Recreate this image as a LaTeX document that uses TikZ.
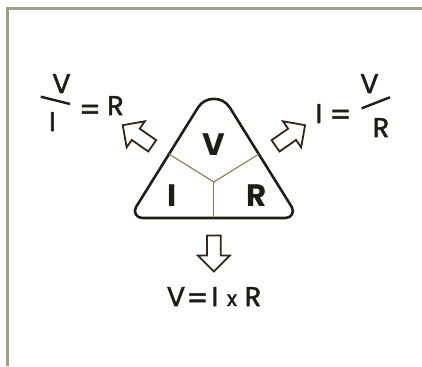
\documentclass[tikz,border=0pt]{standalone}
\usepackage{fontspec}
\setmainfont{Poppins}
\newfontfamily\medfont{Poppins}[FakeBold=2]
\usetikzlibrary{shapes.arrows,calc}
\definecolor{ink}{HTML}{1E1E16}
\definecolor{inkbrown}{HTML}{33261A}
\definecolor{divcol}{HTML}{8A7A4E}
\definecolor{framecol}{HTML}{9DA08A}
\begin{document}
\begin{tikzpicture}[x=1pt,y=-1pt,
  tri/.style={draw=ink,line width=2.6pt,line join=round},
  divline/.style={draw=divcol,line width=1.1pt},
  frameline/.style={draw=framecol,line width=2.2pt},
  hollow/.style={single arrow,draw=inkbrown,line width=1.8pt,fill=white,inner sep=6pt,
    minimum height=36pt,single arrow head extend=9pt,single arrow tip angle=90,line join=miter},
  big/.style={font=\bfseries\fontsize{31}{31}\selectfont,text=ink,inner sep=0pt,anchor=base},
  frm/.style={font=\medfont\fontsize{27}{27}\selectfont,text=ink,inner sep=0pt,anchor=base},
  eqs/.style={font=\medfont\fontsize{30}{30}\selectfont,text=ink,inner sep=0pt,anchor=center},
  fracline/.style={draw=ink,line width=2.4pt}
]
\useasboundingbox (0,0) rectangle (422,366);
% frame
\coordinate (f1) at (7.5,366);
\coordinate (f2) at (7.5,8.5);
\coordinate (f3) at (422,8.5);
\draw[frameline] (f1) -- (f2) -- (f3);
% triangle
\coordinate (A) at (213.9,82);
\coordinate (BL) at (129.2,218);
\coordinate (BR) at (298.6,218);
\coordinate (A1) at ($(A)!30pt!(BL)$);
\coordinate (A2) at ($(A)!30pt!(BR)$);
\coordinate (R1) at ($(BR)!13pt!(A)$);
\coordinate (R2) at ($(BR)!13pt!(BL)$);
\coordinate (L1) at ($(BL)!13pt!(BR)$);
\coordinate (L2) at ($(BL)!13pt!(A)$);
\draw[tri] (L1) -- (R2) .. controls ($(R2)!0.45!(BR)$) and ($(R1)!0.45!(BR)$) .. (R1)
  -- (A2) .. controls ($(A2)!0.45!(A)$) and ($(A1)!0.45!(A)$) .. (A1)
  -- (L2) .. controls ($(L2)!0.45!(BL)$) and ($(L1)!0.45!(BL)$) .. (L1) -- cycle;
% dividers
\coordinate (O) at (213.9,182);
\coordinate (DL) at ($(BL)!(O)!(A)$);
\coordinate (DR) at ($(BR)!(O)!(A)$);
\coordinate (DB) at (213.9,218);
\draw[divline] (DL) -- (O) -- (DR);
\draw[divline] (O) -- (DB);
% letters in triangle
\node[big] (tV) at (213.9,155) {V};
\node[big] (tI) at (172,206) {I};
\node[big] (tR) at (257,206) {R};
% hollow arrows
\node[hollow,rotate=145] (arrL) at (140.3,137.5) {};
\node[hollow,rotate=35] (arrR) at (287.5,137.5) {};
\node[hollow,rotate=-90] (arrB) at (213.9,250) {};
% left formula
\node[frm] (lV) at (61.5,93) {V};
\node[frm] (lI) at (52.5,131) {I};
\coordinate (ls1) at (40.7,96.7);
\coordinate (ls2) at (70,104);
\draw[fracline] (ls1) -- (ls2);
\node[eqs] (leq) at (90,112.5) {=};
\node[frm] (lR) at (115.5,115) {R};
% right formula
\node[frm] (rI) at (319,123) {I};
\node[eqs] (req) at (340.5,117.5) {=};
\node[frm] (rV) at (369.5,93) {V};
\coordinate (rs1) at (361.7,108.3);
\coordinate (rs2) at (390,97.3);
\draw[fracline] (rs1) -- (rs2);
\node[frm] (rR) at (381,137) {R};
% bottom formula
\node[frm] (bV) at (176,306) {V};
\node[eqs] (beq) at (197.5,301) {=};
\node[frm] (bI) at (215,306) {I};
\node[frm,font=\medfont\fontsize{21}{21}\selectfont] (bx) at (232,306) {x};
\node[frm] (bR) at (253,306) {R};
\end{tikzpicture}
\end{document}
